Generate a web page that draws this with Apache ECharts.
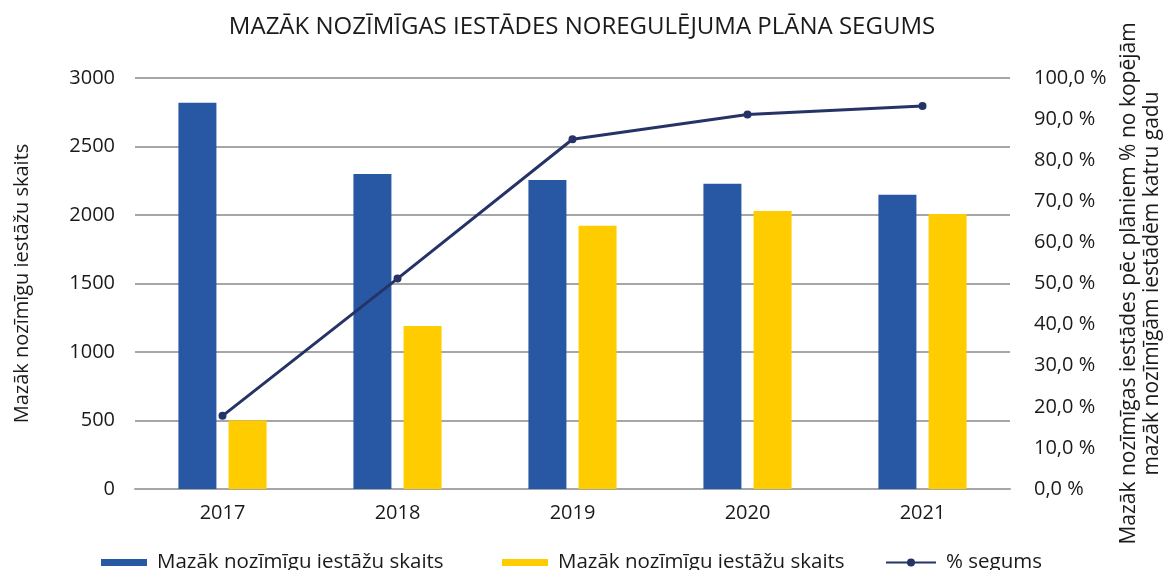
<!DOCTYPE html>
<html>
<head>
<meta charset="utf-8">
<script src="https://cdn.jsdelivr.net/npm/echarts@6/dist/echarts.min.js"></script>
<style>
  html, body { margin: 0; padding: 0; background: #fff; }
  #chart { width: 1164px; height: 570px; }
</style>
</head>
<body>
<div id="chart"></div>
<script>
// dati
const years = ['2017', '2018', '2019', '2020', '2021'];
const skaitsZils = [2820, 2300, 2255, 2228, 2148];
const skaitsDzeltens = [500, 1190, 1922, 2030, 2008];
const segums = [0.178, 0.512, 0.851, 0.911, 0.932];

const fontFam = '"Open Sans", "Noto Sans", sans-serif';

// leģendas elementi - katrs savā vietā
function legendItem (name, left, icon) {
  return {
    top: 547,
    left: left,
    itemWidth: icon === 'rect' ? 46 : 50,
    itemHeight: icon === 'rect' ? 7 : 10,
    textStyle: { fontFamily: fontFam, fontSize: 20.5, color: '#1a1a1a', padding: [0, 0, 0, 5] },
    data: [icon ? { name: name, icon: icon } : { name: name }]
  }
}

let myChart = echarts.init(document.getElementById('chart'));
let option = {
  textStyle: { fontFamily: fontFam },
  title: {
    text: 'MAZĀK NOZĪMĪGAS IESTĀDES NOREGULĒJUMA PLĀNA SEGUMS',
    left: 'center',
    top: 10,
    textStyle: { fontFamily: fontFam, fontSize: 24, fontWeight: 'normal', color: '#1a1a1a' }
  },
  grid: { left: 135, right: 154, top: 78, bottom: 81, outerBoundsMode: 'none' },
  legend: [
    legendItem('Mazāk nozīmīgu iestāžu skaits', 96, 'rect'),
    legendItem('Mazāk nozīmīgu iestāžu skaits ', 497, 'rect'),
    legendItem('% segums', 880)
  ],
  xAxis: [{
    type: 'category',
    data: years,
    axisLine: { show: true, lineStyle: { color: '#a6a6a6', width: 2 } },
    axisTick: { show: false },
    axisLabel: { margin: 14, fontSize: 20, color: '#1a1a1a', fontFamily: fontFam }
  }],
  yAxis: [{
    type: 'value',
    min: 0,
    max: 3000,
    interval: 500,
    name: 'Mazāk nozīmīgu iestāžu skaits',
    nameLocation: 'middle',
    nameGap: 103,
    nameRotate: 90,
    nameTextStyle: { fontSize: 20, color: '#1a1a1a', fontFamily: fontFam },
    axisLine: { show: false },
    axisTick: { show: false },
    axisLabel: {
      margin: 20,
      fontSize: 20,
      color: '#1a1a1a',
      fontFamily: fontFam,
      formatter: function (v) { return String(v); }
    },
    splitLine: { show: true, lineStyle: { color: '#a6a6a6', width: 2 } }
  }, {
    type: 'value',
    min: 0,
    max: 1,
    interval: 0.1,
    position: 'right',
    name: 'Mazāk nozīmīgas iestādes pēc plāniem % no kopējām\nmazāk nozīmīgām iestādēm katru gadu',
    nameLocation: 'middle',
    nameGap: 105,
    nameRotate: 90,
    nameTextStyle: { fontSize: 21, color: '#1a1a1a', fontFamily: fontFam, lineHeight: 23 },
    axisLine: { show: false },
    axisTick: { show: false },
    splitLine: { show: false },
    axisLabel: {
      margin: 24,
      fontSize: 20,
      color: '#1a1a1a',
      fontFamily: fontFam,
      formatter: function (v) {
        return (v * 100).toFixed(1).replace('.', ',') + ' %';
      }
    }
  }],
  series: [{
    name: 'Mazāk nozīmīgu iestāžu skaits',
    type: 'bar',
    data: skaitsZils,
    barWidth: 38,
    barGap: '32%',
    itemStyle: { color: '#2857a4' }
  }, {
    name: 'Mazāk nozīmīgu iestāžu skaits ',
    type: 'bar',
    data: skaitsDzeltens,
    barWidth: 38,
    barGap: '32%',
    itemStyle: { color: '#ffcc00' }
  }, {
    name: '% segums',
    type: 'line',
    yAxisIndex: 1,
    data: segums,
    symbol: 'circle',
    symbolSize: 8,
    lineStyle: { color: '#253367', width: 3 },
    itemStyle: { color: '#253367' },
    z: 5
  }]
};
myChart.setOption(option);
</script>
</body>
</html>
